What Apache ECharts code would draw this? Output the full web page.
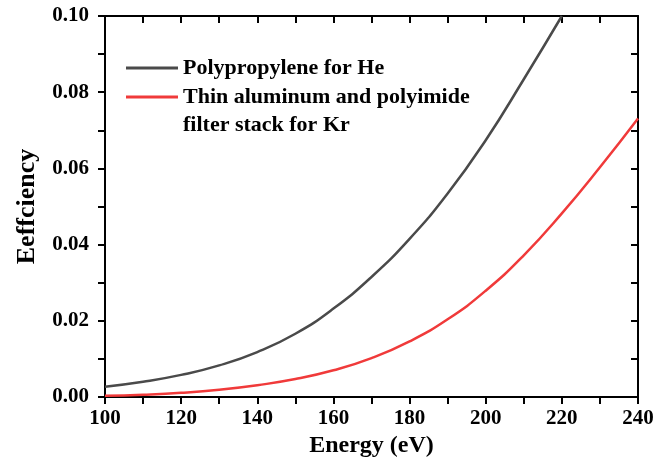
<!DOCTYPE html>
<html>
<head>
<meta charset="utf-8">
<script src="https://cdn.jsdelivr.net/npm/echarts@6/dist/echarts.min.js"></script>
<style>html,body{margin:0;padding:0;background:#fff}#c{width:670px;height:464px}</style>
</head>
<body>
<div id="c"></div>
<script>
var energy = [100, 110, 120, 130, 140, 150, 160, 170, 180, 190, 200, 210, 220, 230, 240];
var polyHe = [0.0027, 0.0040, 0.0058, 0.0083, 0.0118, 0.0166, 0.0232, 0.0315, 0.0415, 0.0534, 0.0674, 0.0834, 0.1000];
var alKr = [0.0003, 0.0006, 0.0011, 0.0019, 0.0031, 0.0047, 0.0070, 0.0102, 0.0146, 0.0204, 0.0279, 0.0372, 0.0482, 0.0603, 0.0731];
var nameHe = 'Polypropylene for He';
var nameKr = 'Thin aluminum and polyimide filter stack for Kr';
var krLines = ['Thin aluminum and polyimide', 'filter stack for Kr'];

var font = 'Liberation Serif';
function pairs(xs, ys) { return ys.map(function (v, i) { return [xs[i], v]; }); }

var chart = echarts.init(document.getElementById('c'), null, {renderer: 'canvas'});
var axisLine = {show: true, onZero: false, lineStyle: {color: '#000', width: 2}};
var tickOut = {show: true, inside: false, length: 7, lineStyle: {color: '#000', width: 2}};
var tickIn = {show: true, inside: true, length: 7, lineStyle: {color: '#000', width: 2}};
var legText = {fontFamily: font, fontWeight: 'bold', fontSize: 22, color: '#000', lineHeight: 28};
chart.setOption({
  animation: false,
  backgroundColor: '#fff',
  grid: {left: 105, right: 32, top: 16, bottom: 67, containLabel: false},
  legend: [{
    data: [nameHe], left: 126, top: 54, padding: 0, orient: 'vertical',
    icon: 'rect', itemWidth: 52, itemHeight: 3,
    textStyle: legText
  }, {
    data: [nameKr], left: 126, top: 55, padding: 0, orient: 'vertical',
    icon: 'rect', itemWidth: 52, itemHeight: 3,
    formatter: function () { return '{e| }\n{a|' + krLines[0] + '}\n{a|' + krLines[1] + '}'; },
    textStyle: {
      fontFamily: font, fontWeight: 'bold', fontSize: 22, color: '#000', lineHeight: 28,
      rich: {
        e: {fontFamily: font, fontSize: 22, lineHeight: 28},
        a: {fontFamily: font, fontWeight: 'bold', fontSize: 22, color: '#000', lineHeight: 28}
      }
    }
  }],
  xAxis: [{
    type: 'value', min: 100, max: 240, interval: 10, position: 'bottom',
    name: 'Energy (eV)', nameLocation: 'middle', nameGap: 37,
    nameTextStyle: {fontFamily: font, fontWeight: 'bold', fontSize: 24, color: '#000'},
    axisLine: axisLine, axisTick: tickOut, splitLine: {show: false},
    axisLabel: {margin: 11, fontFamily: font, fontWeight: 'bold', fontSize: 21, color: '#000',
      formatter: function (v) { return v % 20 === 0 ? String(v) : ''; }}
  }, {
    type: 'value', min: 100, max: 240, interval: 10, position: 'top',
    axisLine: axisLine, axisTick: tickIn, splitLine: {show: false}, axisLabel: {show: false}
  }],
  yAxis: [{
    type: 'value', min: 0, max: 0.1, interval: 0.01, position: 'left',
    name: 'Eeffciency', nameLocation: 'middle', nameGap: 65,
    nameTextStyle: {fontFamily: font, fontWeight: 'bold', fontSize: 26, color: '#000'},
    axisLine: axisLine, axisTick: tickOut, splitLine: {show: false},
    axisLabel: {margin: 16, fontFamily: font, fontWeight: 'bold', fontSize: 21, color: '#000',
      formatter: function (v) { var k = Math.round(v * 100); return k % 2 === 0 ? (k / 100).toFixed(2) : ''; }}
  }, {
    type: 'value', min: 0, max: 0.1, interval: 0.01, position: 'right',
    axisLine: axisLine, axisTick: tickIn, splitLine: {show: false}, axisLabel: {show: false}
  }],
  series: [{
    name: nameHe, type: 'line', data: pairs(energy, polyHe), smooth: 0.5, symbol: 'none',
    color: '#4a4a4a', lineStyle: {color: '#4a4a4a', width: 2.5}, clip: true
  }, {
    name: nameKr, type: 'line', data: pairs(energy, alKr), smooth: 0.5, symbol: 'none',
    color: '#f03a3a', lineStyle: {color: '#f03a3a', width: 2.5}, clip: true
  }]
});
</script>
</body>
</html>
